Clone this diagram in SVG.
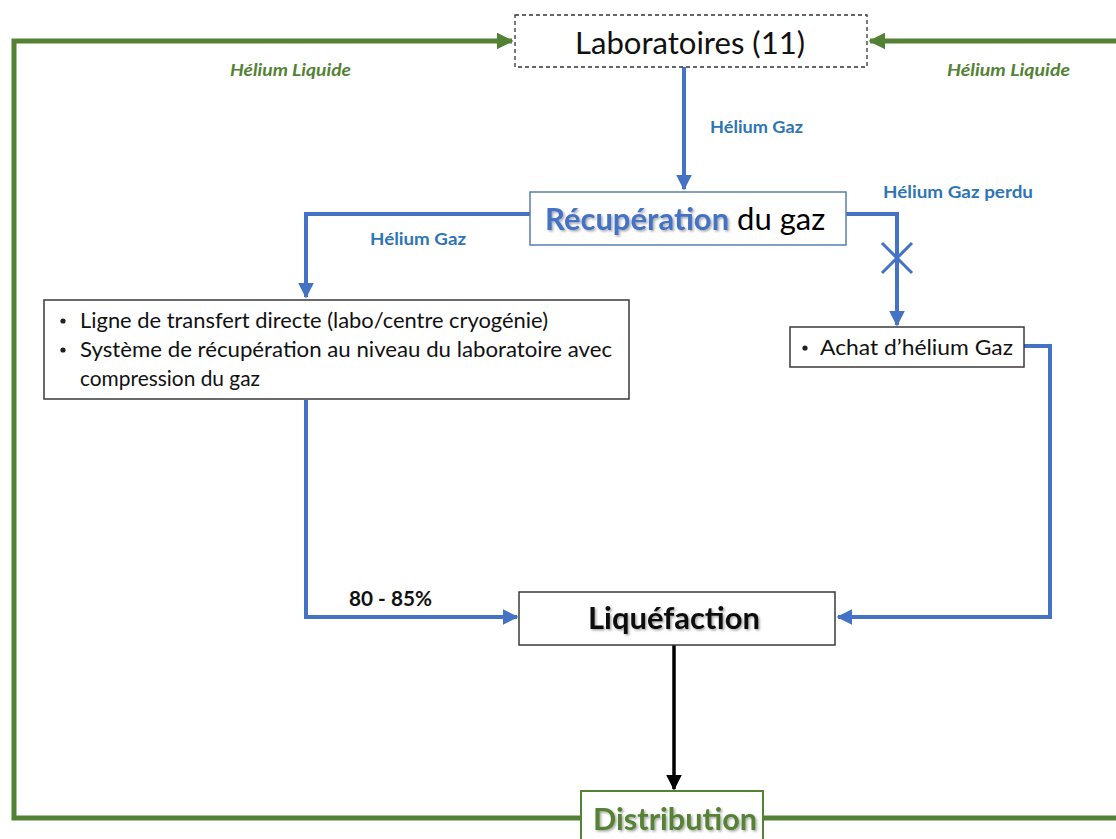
<svg xmlns="http://www.w3.org/2000/svg" width="1116" height="839" viewBox="0 0 1116 839">
<defs>
<style>
.box{fill:#fff;stroke:#3a3a3a;stroke-width:1.5}
.blue{fill:none;stroke:#4472C4;stroke-width:4}
.green{fill:none;stroke:#548235;stroke-width:5}
.black{fill:none;stroke:#000;stroke-width:3.5}
.lblB{font-family:Lato,"Liberation Sans",sans-serif;font-weight:bold;font-size:17px;fill:#2E75B6}
.lblG{font-family:Lato,"Liberation Sans",sans-serif;font-weight:bold;font-style:italic;font-size:17px;fill:#548235}
.txt{font-family:Lato,"Open Sans",sans-serif;fill:#111}
.gtxt{font-family:Lato,"Open Sans",sans-serif;fill:#548235}
</style>
<marker id="aB" viewBox="0 0 10 10" refX="9" refY="5" markerWidth="4" markerHeight="4" orient="auto" markerUnits="strokeWidth"><path d="M0,0 L10,5 L0,10 z" fill="#4472C4"/></marker>
<marker id="aG" viewBox="0 0 10 10" refX="9" refY="5" markerWidth="3.4" markerHeight="3.4" orient="auto" markerUnits="strokeWidth"><path d="M0,0 L10,5 L0,10 z" fill="#548235"/></marker>
<marker id="aK" viewBox="0 0 10 10" refX="9" refY="5" markerWidth="4.5" markerHeight="4.5" orient="auto" markerUnits="strokeWidth"><path d="M0,0 L10,5 L0,10 z" fill="#000"/></marker>
<filter id="sh" x="-10%" y="-20%" width="120%" height="140%"><feDropShadow dx="1.5" dy="1.5" stdDeviation="1" flood-color="#000" flood-opacity="0.35"/></filter>
</defs>
<rect width="1116" height="839" fill="#fff"/>
<g id="connectors">
<polyline class="green" points="580,818 14,818 14,41 512,41" marker-end="url(#aG)"/>
<polyline class="green" points="763,818 1122,818 1122,41 870,41" marker-end="url(#aG)"/>
<line class="blue" x1="684" y1="67" x2="684" y2="189" marker-end="url(#aB)"/>
<polyline class="blue" points="530,214 306,214 306,297" marker-end="url(#aB)"/>
<polyline class="blue" points="846,214 897,214 897,325" marker-end="url(#aB)"/>
<line x1="882" y1="243" x2="912" y2="273" stroke="#4472C4" stroke-width="3"/>
<line x1="912" y1="243" x2="882" y2="273" stroke="#4472C4" stroke-width="3"/>
<polyline class="blue" points="1024,346 1050,346 1050,617 838,617" marker-end="url(#aB)"/>
<polyline class="blue" points="306,400 306,617 517,617" marker-end="url(#aB)"/>
<line class="black" x1="674" y1="645" x2="674" y2="789" marker-end="url(#aK)"/>
<text class="lblG" x="230" y="76" textLength="121" lengthAdjust="spacingAndGlyphs">Hélium Liquide</text>
<text class="lblG" x="947" y="76" textLength="123" lengthAdjust="spacingAndGlyphs">Hélium Liquide</text>
<text class="lblB" x="710" y="133" textLength="93" lengthAdjust="spacingAndGlyphs">Hélium Gaz</text>
<text class="lblB" x="370" y="245" textLength="96" lengthAdjust="spacingAndGlyphs">Hélium Gaz</text>
<text class="lblB" x="883" y="198" textLength="150" lengthAdjust="spacingAndGlyphs">Hélium Gaz perdu</text>
<text class="txt" x="349" y="606" font-size="20" font-weight="bold" textLength="83" lengthAdjust="spacingAndGlyphs">80 - 85%</text>
</g>
<g id="laboratoires">
<rect x="515" y="15" width="352" height="52" fill="#fff" stroke="#333" stroke-width="1.3" stroke-dasharray="4,3"/>
<text class="txt" x="575" y="54" font-size="30" textLength="230" lengthAdjust="spacingAndGlyphs">Laboratoires (11)</text>
</g>
<g id="recuperation">
<rect x="530" y="192" width="316" height="53" fill="#fff" stroke="#5b7fa8" stroke-width="1.5"/>
<text class="txt" x="545" y="230" font-size="31"><tspan font-weight="bold" fill="#4472C4" filter="url(#sh)">Récupération</tspan><tspan fill="#000"> du gaz</tspan></text>
</g>
<g id="options">
<rect class="box" x="44" y="300" width="585" height="99"/>
<circle cx="63" cy="321" r="2.6" fill="#222"/>
<circle cx="63" cy="350" r="2.6" fill="#222"/>
<text class="txt" font-size="21"><tspan x="80" y="328" textLength="468" lengthAdjust="spacingAndGlyphs">Ligne de transfert directe (labo/centre cryogénie)</tspan><tspan x="80" y="357" textLength="532" lengthAdjust="spacingAndGlyphs">Système de récupération au niveau du laboratoire avec</tspan><tspan x="80" y="386" textLength="180" lengthAdjust="spacingAndGlyphs">compression du gaz</tspan></text>
</g>
<g id="achat">
<rect class="box" x="790" y="327" width="234" height="40"/>
<circle cx="805" cy="348" r="2.6" fill="#222"/>
<text class="txt" x="820" y="355" font-size="21" textLength="193" lengthAdjust="spacingAndGlyphs">Achat d’hélium Gaz</text>
</g>
<g id="liquefaction">
<rect class="box" x="519" y="592" width="316" height="53"/>
<text class="txt" x="588" y="629" font-size="30" font-weight="bold" textLength="172" lengthAdjust="spacingAndGlyphs" filter="url(#sh)">Liquéfaction</text>
</g>
<g id="distribution">
<rect x="581" y="791" width="182" height="52" fill="#fff" stroke="#548235" stroke-width="2"/>
<text class="gtxt" x="593" y="830" font-size="30" font-weight="bold" textLength="164" lengthAdjust="spacingAndGlyphs" filter="url(#sh)">Distribution</text>
</g>
</svg>
